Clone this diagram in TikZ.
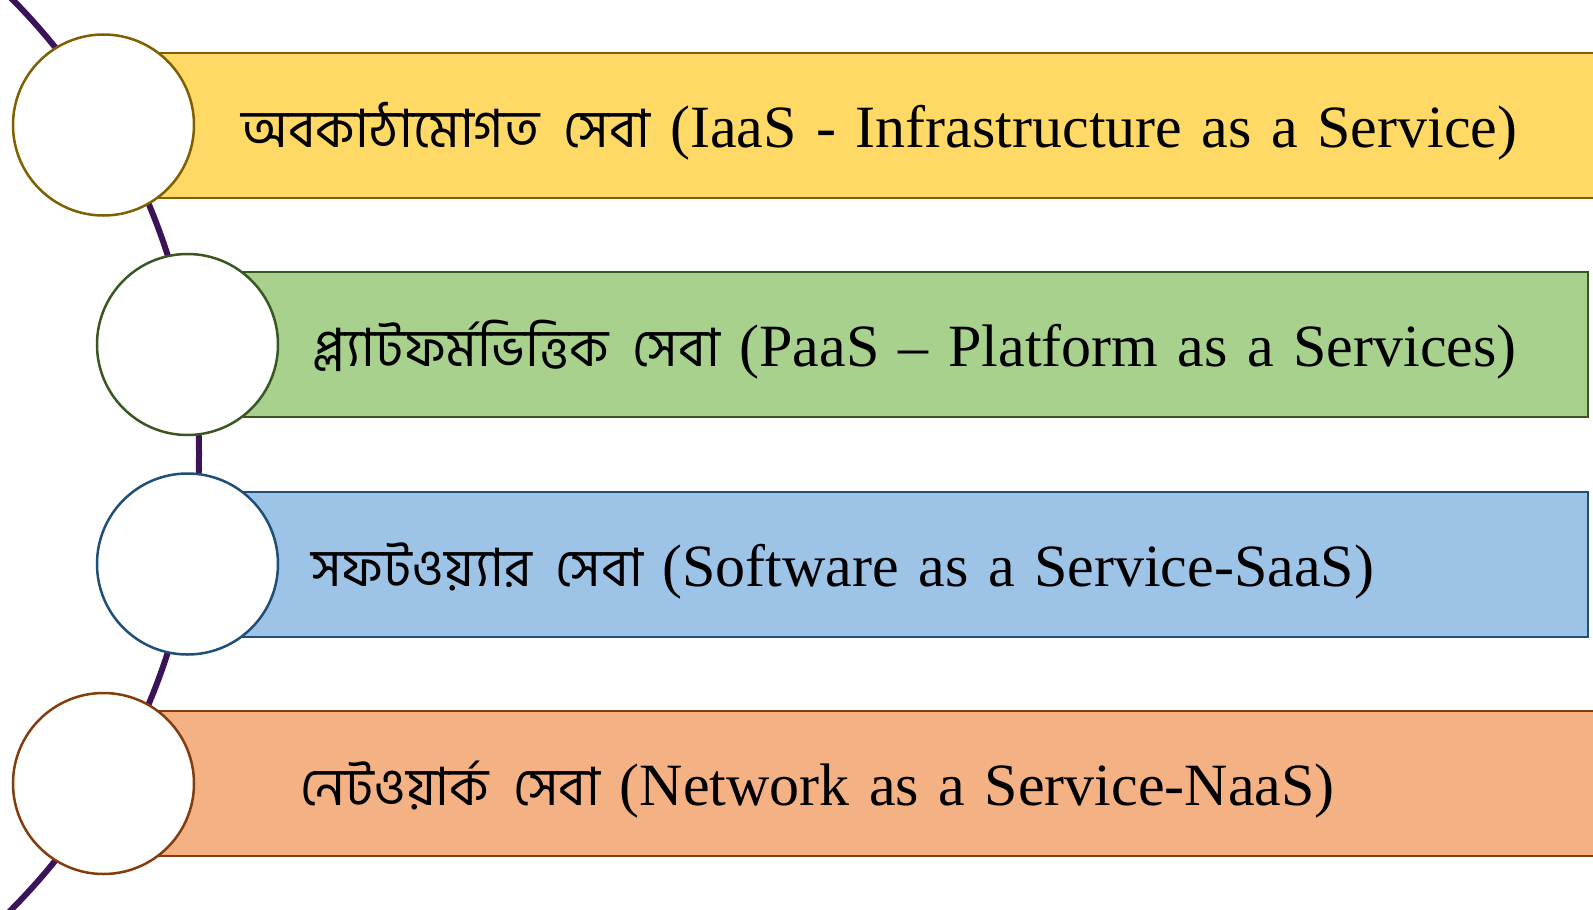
\documentclass[tikz,border=0pt]{standalone}
\usepackage{fontspec}
\setmainfont{Liberation Serif}[WordSpace=1.3]
\newfontfamily\bnfont[Script=Bengali, Scale=0.88, WordSpace=2]{Hind Siliguri}
\usepackage{tikz}
\usetikzlibrary{positioning}
\definecolor{SpinePurple}{HTML}{3B1358}
\definecolor{BandYellow}{HTML}{FFD966}
\definecolor{EdgeYellow}{HTML}{7F6000}
\definecolor{BandGreen}{HTML}{A9D18E}
\definecolor{EdgeGreen}{HTML}{385723}
\definecolor{BandBlue}{HTML}{9DC3E6}
\definecolor{EdgeBlue}{HTML}{1F4E79}
\definecolor{BandOrange}{HTML}{F4B183}
\definecolor{EdgeOrange}{HTML}{843C0C}
\tikzset{
  % Band and ring styles
  bandbox/.style={rectangle, draw=#1, line width=2pt, minimum height=145pt, inner sep=0pt},
  ringnode/.style={circle, draw=#1, fill=white, line width=2.5pt, minimum size=181pt, inner sep=0pt},
  bandtext/.style={anchor=base west, inner sep=0pt, font=\fontsize{60}{66}\selectfont},
  % Spine style
  spine/.style={SpinePurple, line width=6pt}
}
\begin{document}
\begin{tikzpicture}[x=1pt,y=-1pt]
  \useasboundingbox (0,0) rectangle (1593,910);
  \clip (0,0) rectangle (1593,910);

  % Spine
  \draw[spine] (-448,454) ++(-47:647) arc[start angle=-47, end angle=47, radius=647];

  % Bands
  \node[bandbox=EdgeYellow, fill=BandYellow, minimum width=1500pt] (iaas) at (853,125) {};
  \node[bandbox=EdgeGreen, fill=BandGreen, minimum width=1400pt] (paas) at (888,344.5) {};
  \node[bandbox=EdgeBlue, fill=BandBlue, minimum width=1400pt] (saas) at (888,564) {};
  \node[bandbox=EdgeOrange, fill=BandOrange, minimum width=1500pt] (naas) at (853,783.5) {};

  % Rings
  \node[ringnode=EdgeYellow] (r1) at (103.5,125) {};
  \node[ringnode=EdgeGreen] (r2) at (187.5,344.5) {};
  \node[ringnode=EdgeBlue] (r3) at (187.5,564) {};
  \node[ringnode=EdgeOrange] (r4) at (103.5,783.5) {};

  % Labels
  \node[bandtext] (t1) at (241,147) {{\bnfont অবকাঠামোগত সেবা} (IaaS - Infrastructure as a Service)};
  \node[bandtext] (t2) at (313,366.5) {{\bnfont প্ল্যাটফর্মভিত্তিক সেবা} (PaaS – Platform as a Services)};
  \node[bandtext] (t3) at (311,586) {{\bnfont সফটওয়্যার সেবা} (Software as a Service-SaaS)};
  \node[bandtext] (t4) at (300,805.5) {{\bnfont নেটওয়ার্ক সেবা} (Network as a Service-NaaS)};
\end{tikzpicture}
\end{document}
